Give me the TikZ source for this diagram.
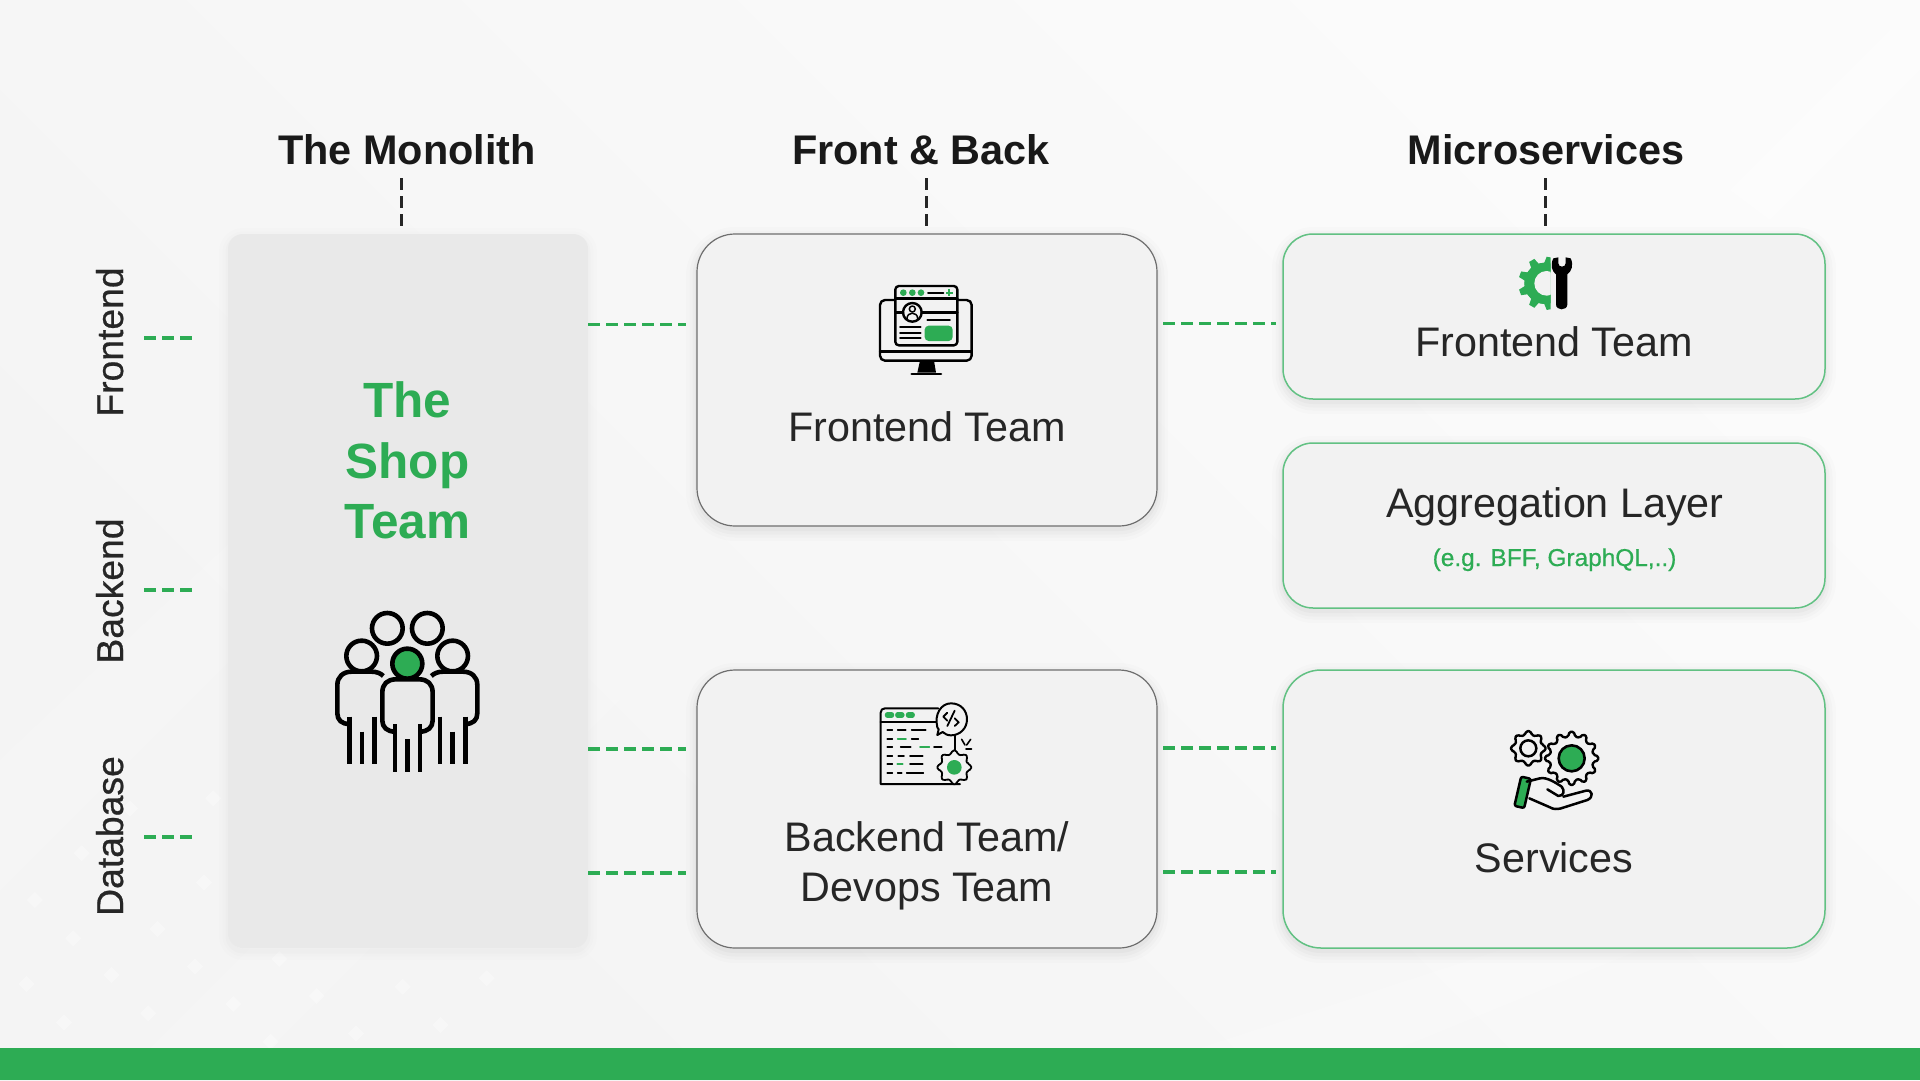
\documentclass[tikz,border=0pt]{standalone}
\usepackage{fontspec}
\setmainfont{Liberation Sans}
\newfontfamily\medfont[FakeBold=0.6]{Liberation Sans}
\definecolor{brandgreen}{HTML}{2DAC54}
\definecolor{inkdark}{HTML}{262626}
\definecolor{panelgrey}{HTML}{E9E9E9}
\definecolor{cardgrey}{HTML}{F2F2F2}
\definecolor{cardedge}{HTML}{6E6E6E}
\definecolor{cardgreen}{HTML}{62C183}
\newcommand{\sized}[1]{\fontsize{#1}{#1}\selectfont}
% A cog outline: options, centre x, centre y, outer radius, inner radius, teeth
\newcommand{\cogwheel}[6]{%
  \pgfmathsetmacro{\cogstep}{360/#6}%
  \pgfmathtruncatemacro{\coglast}{#6-1}%
  \path[#1] ([shift={(#2,#3)}]{-.3*\cogstep}:#5)
    \foreach \k in {0,...,\coglast} {
      -- ([shift={(#2,#3)}]{\k*\cogstep-.3*\cogstep}:#5)
      -- ([shift={(#2,#3)}]{\k*\cogstep-.16*\cogstep}:#4)
      -- ([shift={(#2,#3)}]{\k*\cogstep+.16*\cogstep}:#4)
      -- ([shift={(#2,#3)}]{\k*\cogstep+.3*\cogstep}:#5)
    } -- cycle;%
}
\tikzset{
  softshade/.style={
    preaction={draw=black,draw opacity=.012,line width=22pt,transform canvas={yshift=-4pt}},
    preaction={draw=black,draw opacity=.014,line width=15pt,transform canvas={yshift=-4pt}},
    preaction={draw=black,draw opacity=.018,line width=9pt,transform canvas={yshift=-4pt}},
    preaction={draw=black,draw opacity=.022,line width=4pt,transform canvas={yshift=-3pt}}},
  paleshade/.style={
    preaction={draw=black,draw opacity=.006,line width=18pt,transform canvas={yshift=-3pt}},
    preaction={draw=black,draw opacity=.008,line width=11pt,transform canvas={yshift=-3pt}},
    preaction={draw=black,draw opacity=.010,line width=5pt,transform canvas={yshift=-3pt}}},
  panelbox/.style={rectangle,inner sep=0pt,outer sep=0pt,fill=panelgrey,rounded corners=15pt,paleshade},
  greycard/.style={rectangle,inner sep=0pt,outer sep=0pt,fill=cardgrey,draw=cardedge,line width=1.2pt,rounded corners=38pt,softshade},
  greencard/.style={rectangle,inner sep=0pt,outer sep=0pt,fill=cardgrey,draw=cardgreen,line width=1.5pt,rounded corners=#1,softshade},
  greencard/.default=30pt,
  heading/.style={anchor=base,inner sep=0pt,font=\bfseries\sized{41.4},text=black!90},
  cardtext/.style={anchor=base,inner sep=0pt,font=\sized{41.3},text=inkdark},
  shoptext/.style={anchor=base,inner sep=0pt,font=\bfseries\sized{49.5},text=brandgreen},
  sidetext/.style={anchor=base,inner sep=0pt,rotate=90,font=\medfont\sized{37.3},text=inkdark},
  greendash/.style={draw=brandgreen,line width=3.4pt,dash pattern=on 12pt off 6pt},
  inkdash/.style={draw=inkdark,line width=3pt,dash pattern=on 12pt off 6pt},
  iconline/.style={draw=black,line width=#1,line cap=round,line join=round},
  iconline/.default=2.4pt,
  faintspot/.style={fill=white,fill opacity=.3}
}
\begin{document}
\begin{tikzpicture}[x=1pt,y=-1pt]
\useasboundingbox (0,0) rectangle (1920,1080);

% Page ground with its faint diagonal bands and diamonds
\shade[bottom color=black!4.5,top color=black!1.5,shading angle=-45]
  (0,0) rectangle (1920,1080);
\fill[white,opacity=.15] (0,760) -- (360,420) -- (470,420) -- (0,890) -- cycle;
\fill[white,opacity=.15] (150,1048) -- (500,700) -- (620,700) -- (270,1048) -- cycle;
\fill[white,opacity=.3] (1730,190) -- (1890,30) -- (1920,30) -- (1920,70) -- (1770,220) -- cycle;
\fill[white,opacity=.15] (1200,1048) -- (1500,950) -- (1640,950) -- (1400,1048) -- cycle;
\begin{scope}[shift={(0,780)},x=.3333pt,y=-.3333pt]
  \foreach \dx/\dy in {105/360,245/220,220/475,335/585,80/612,192/727,445/700,472/447,612/308,585/560,700/672,838/537,950/648,1068/760,1208/620,1322/735,1460/595,812/785,390/85,640/55}
    \path[faintspot] (\dx-24,\dy) -- (\dx,\dy-24) -- (\dx+24,\dy) -- (\dx,\dy+24) -- cycle;
\end{scope}

% Footer band
\fill[brandgreen] (0,1048) rectangle (1920,1080);

% Boxes
\node[panelbox,minimum width=360pt,minimum height=714pt] (mono) at (408,591) {};
\node[greycard,minimum width=460pt,minimum height=292pt] (midtop) at (927,380) {};
\node[greycard,minimum width=460pt,minimum height=278pt] (midlow) at (927,809) {};
\node[greencard,minimum width=542pt,minimum height=165pt] (rtop) at (1554,316.5) {};
\node[greencard,minimum width=542pt,minimum height=165pt] (rmid) at (1554,525.5) {};
\node[greencard=38pt,minimum width=542pt,minimum height=278pt] (rlow) at (1554,809) {};

% Column headings
\node[heading] (headmono) at (407,164) {The Monolith};
\node[heading] (headfb) at (921,164) {Front \& Back};
\node[heading] (headmicro) at (1546,164) {Microservices};

% Layer labels
\node[sidetext] (lblfront) at (123,342) {Frontend};
\node[sidetext] (lblback) at (123,591) {Backend};
\node[sidetext] (lbldata) at (123,836) {Database};

% Text inside the boxes
\node[shoptext] (shop1) at (407.5,417.5) {The};
\node[shoptext] (shop2) at (407.5,478) {Shop};
\node[shoptext] (shop3) at (407.5,538) {Team};
\node[cardtext] (tmidfront) at (927,441) {Frontend Team};
\node[cardtext] (tmidback) at (927,851.5) {Backend Team/};
\node[cardtext] (tmiddev) at (927,901.5) {Devops Team};
\node[cardtext] (trfront) at (1554,356.5) {Frontend Team};
\node[cardtext] (tragg) at (1555,517.5) {Aggregation Layer};
\node[anchor=base,inner sep=0pt,font=\medfont\sized{24.4},text=brandgreen] (tragg2) at (1554.5,566) {(e.g. BFF, GraphQL,..)};
\node[cardtext] (trserv) at (1554,872) {Services};

% Dashed ticks under the headings
\coordinate (tick1) at (401,178);
\coordinate (tick2) at (926,178);
\coordinate (tick3) at (1545,178);
\draw[inkdash,shorten >=8pt] (tick1) -- (tick1 |- mono.north);
\draw[inkdash,shorten >=8pt] (tick2) -- (tick2 |- midtop.north);
\draw[inkdash,shorten >=8pt] (tick3) -- (tick3 |- rtop.north);

% Dashed ticks beside the layer labels
\coordinate (side1) at (144,338);
\coordinate (side2) at (144,590);
\coordinate (side3) at (144,837);
\draw[greendash,shorten >=35pt] (side1) -- (side1 -| mono.west);
\draw[greendash,shorten >=35pt] (side2) -- (side2 -| mono.west);
\draw[greendash,shorten >=35pt] (side3) -- (side3 -| mono.west);

% Links between the columns
\coordinate (rowa) at (0,324.5);
\coordinate (rowb) at (0,749);
\coordinate (rowc) at (0,873);
\draw[greendash,shorten >=11pt] (mono.east |- rowa) -- (midtop.west |- rowa);
\draw[greendash,shorten >=11pt] (mono.east |- rowb) -- (midlow.west |- rowb);
\draw[greendash,shorten >=11pt] (mono.east |- rowc) -- (midlow.west |- rowc);
\coordinate (rowd) at (0,323.5);
\coordinate (rowe) at (0,748);
\coordinate (rowf) at (0,872);
\draw[greendash,shorten <=6pt,shorten >=7pt] (midtop.east |- rowd) -- (rtop.west |- rowd);
\draw[greendash,shorten <=6pt,shorten >=7pt] (midlow.east |- rowe) -- (rlow.west |- rowe);
\draw[greendash,shorten <=6pt,shorten >=7pt] (midlow.east |- rowf) -- (rlow.west |- rowf);

% People icon
\begin{scope}[shift={(300,580)},x=.3333pt,y=-.3333pt]
  \tikzset{every path/.style={iconline=4.6pt,line cap=butt}}
  \draw (262,145) circle[radius=46];
  \draw (382,145) circle[radius=46];
  \draw (185,228) circle[radius=46];
  \draw (458,228) circle[radius=46];
  \draw[fill=brandgreen] (322,251) circle[radius=45];
  % side figures
  \draw (148,432) .. controls (125,432) and (112,420) .. (112,400) -- (112,315)
        .. controls (112,290) and (130,275) .. (155,275) -- (215,275) .. controls (230,275) and (242,280) .. (250,288);
  \draw (496,432) .. controls (519,432) and (532,420) .. (532,400) -- (532,315)
        .. controls (532,290) and (514,275) .. (489,275) -- (429,275) .. controls (414,275) and (402,280) .. (394,288);
  \foreach \lx/\ly in {148/410,186/455,224/410,496/410,458/455,420/410}
    \draw (\lx,\ly) -- (\lx,553);
  % front figure
  \draw (285,455) .. controls (262,455) and (247,442) .. (247,422) -- (247,338)
        .. controls (247,312) and (262,298) .. (288,298) -- (357,298)
        .. controls (383,298) and (398,312) .. (398,338) -- (398,422)
        .. controls (398,442) and (383,455) .. (360,455);
  \foreach \lx/\ly in {285/433,322/478,360/433}
    \draw (\lx,\ly) -- (\lx,575);
\end{scope}

% Monitor icon
\begin{scope}[shift={(860,270)},x=.3333pt,y=-.3333pt]
  \draw[iconline,rounded corners=5pt] (60,90) rectangle (335,272);
  \draw[iconline] (60,245) -- (335,245);
  \fill[black] (180,272) -- (222,272) -- (228,308) -- (172,308) -- cycle;
  \draw[iconline=2.6pt] (155,312) -- (243,312);
  \draw[iconline,fill=cardgrey,rounded corners=3.5pt] (106,48) rectangle (292,226);
  \draw[iconline] (106,85) -- (292,85);
  \fill[brandgreen] (130,68) circle[radius=10] (157,68) circle[radius=10] (183,68) circle[radius=10];
  \draw[iconline=2pt] (204,68) -- (250,68);
  \draw[brandgreen,line width=2.2pt] (258,68) -- (278,68) (268,58) -- (268,78);
  \draw[iconline] (106,127) -- (129,127) (185,127) -- (292,127);
  \draw[iconline] (157,127) circle[radius=28];
  \draw[iconline=1.5pt] (157,117) circle[radius=9];
  \draw[iconline=1.5pt] (141,146) .. controls (141,124) and (173,124) .. (173,146);
  \draw[iconline=1.8pt] (202,149) -- (270,149);
  \draw[iconline=1.8pt] (120,171) -- (182,171) (120,188) -- (182,188) (120,205) -- (182,205);
  \fill[brandgreen,rounded corners=4pt] (194,167) rectangle (278,213);
\end{scope}

% Backend window icon
\begin{scope}[shift={(860,690)},x=.3333pt,y=-.3333pt]
  \draw[iconline=2pt] (235,55) -- (75,55) .. controls (67,55) and (62,60) .. (62,68) -- (62,282) -- (300,282);
  \draw[iconline=2pt] (62,95) -- (230,95);
  \foreach \ps/\pe in {82/95,113/126,145/157}
    \draw[brandgreen,line width=5.2pt,line cap=round] (\ps,75) -- (\pe,75);
  \tikzset{every path/.style={line width=1.7pt,line cap=round}}
  \foreach \ly/\ls/\le in {120/82/97,120/113/137,120/155/197,146/82/97,146/155/175,172/82/97,172/122/152,172/222/245,197/82/97,197/115/132,197/150/188,222/82/97,222/150/188,248/82/97,248/113/125,248/140/190}
    \draw[black] (\ls,\ly) -- (\le,\ly);
  \foreach \ly/\ls/\le in {146/113/138,172/180/208,222/112/128}
    \draw[brandgreen] (\ls,\ly) -- (\le,\ly);
  \tikzset{every path/.style={}}
  \draw[iconline=2pt,fill=cardgrey] (232,112) .. controls (222,70) and (245,40) .. (273,40)
     .. controls (303,40) and (321,62) .. (321,88) .. controls (321,115) and (300,136) .. (273,136)
     .. controls (262,136) and (255,132) .. (248,126) -- (232,135) -- (236,118) -- cycle;
  \draw[iconline=1.8pt] (262,68) -- (250,80) -- (262,92) (284,85) -- (296,97) -- (284,108) (284,62) -- (262,108);
  \draw[iconline=2pt] (285,136) -- (285,185);
  \draw[iconline=1.6pt] (305,148) -- (315,165) (332,148) -- (320,165) (318,177) -- (335,177);
  \cogwheel{draw=black,fill=cardgrey,line width=1.8pt,line join=round,rounded corners=1.5pt}{283}{232}{51}{41}{8}
  \fill[brandgreen] (283,232) circle[radius=22];
\end{scope}

% Gear and wrench icon
\begin{scope}[shift={(1490,245)},x=.3333pt,y=-.3333pt]
  \begin{scope}
    \clip (70,20) rectangle (182,210);
    \cogwheel{fill=brandgreen,draw=none}{165}{115}{80}{62}{9}
    \fill[brandgreen] (165,115) circle[radius=62];
    \fill[cardgrey] (170,115) circle[radius=37];
    \fill[cardgrey] (170,84) rectangle (190,146);
  \end{scope}
  \fill[black] (190,40) -- (205,37) -- (205,55) .. controls (205,68) and (227,68) .. (227,55)
     -- (227,37) -- (242,40) .. controls (252,60) and (244,80) .. (232,88) -- (232,178)
     .. controls (232,198) and (198,198) .. (198,178) -- (198,88) .. controls (186,80) and (180,60) .. (190,40) -- cycle;
\end{scope}

% Services icon
\begin{scope}[shift={(1490,720)},x=.3333pt,y=-.3333pt]
  \cogwheel{draw=black,fill=cardgrey,line width=2.4pt,line join=round,rounded corners=1.5pt}{115}{85}{52}{42}{8}
  \draw[iconline=2.5pt] (115,85) circle[radius=24];
  \cogwheel{draw=black,fill=cardgrey,line width=2.4pt,line join=round,rounded corners=1.5pt}{245}{115}{80}{66}{12}
  \draw[iconline=2.6pt,fill=brandgreen] (245,115) circle[radius=39];
  \draw[iconline=2.5pt,fill=brandgreen,rotate around={-13:(98,217)},rounded corners=2pt] (83,172) rectangle (113,262);
  \draw[iconline=2.5pt] (110,185) -- (150,175) .. controls (170,170) and (200,190) .. (215,200)
     .. controls (225,212) and (222,228) .. (205,228) -- (172,208);
  \draw[iconline=2.5pt] (118,235) -- (180,262) .. controls (190,268) and (200,268) .. (210,266) -- (292,240)
     .. controls (312,232) and (308,208) .. (288,212) -- (220,230);
\end{scope}
\end{tikzpicture}
\end{document}
